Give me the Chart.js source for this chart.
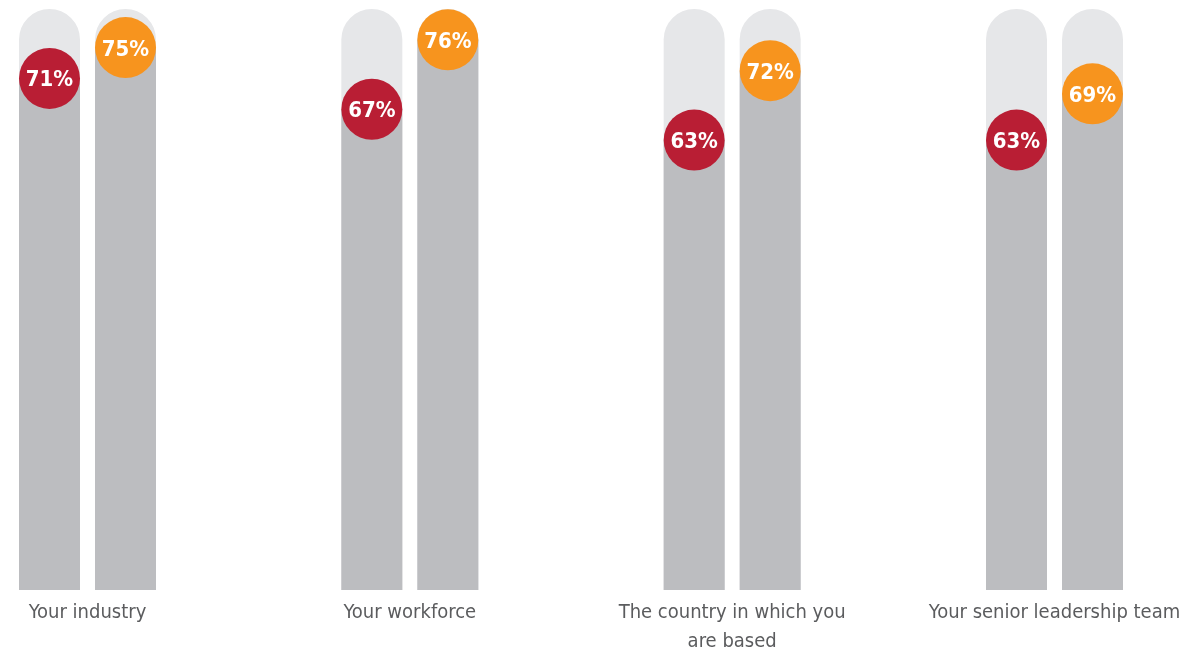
<!DOCTYPE html>
<html>
<head>
<meta charset="utf-8">
<script src="https://cdn.jsdelivr.net/npm/chart.js@4.4.0/dist/chart.umd.min.js"></script>
<style>
  html, body { margin: 0; padding: 0; background: #fff; overflow: hidden; }
  #wrap { width: 1183px; height: 654px; position: relative; }
</style>
</head>
<body>
<div id="wrap"><canvas id="chart"></canvas></div>
<script>
const categories = [
  "Your industry",
  "Your workforce",
  ["The country in which you", "are based"],
  "Your senior leadership team"
];
const seriesRed = [71, 67, 63, 63];
const seriesOrange = [75, 76, 72, 69];
const trackValues = [80, 80, 80, 80];

const Y_MIN = 4.65;
const Y_MAX = 80;
const FONT = "'DejaVu Sans Condensed', 'Liberation Sans Narrow', sans-serif";
const RED = "#b91e34";
const ORANGE = "#f7941e";
const TRACK = "#e6e7e9";
const FILL = "#bcbdc0";

// circles with the value, sitting on top of each filled bar
const bubblePlugin = {
  id: "bubbles",
  afterDatasetsDraw(chart) {
    const ctx = chart.ctx;
    chart.data.datasets.forEach((ds, i) => {
      if (!ds.bubble) return;
      const meta = chart.getDatasetMeta(i);
      meta.data.forEach((bar, j) => {
        ctx.save();
        ctx.beginPath();
        ctx.arc(bar.x, bar.y, 30.5, 0, Math.PI * 2);
        ctx.fillStyle = ds.bubble;
        ctx.fill();
        ctx.fillStyle = "#fff";
        ctx.font = "bold 22px " + FONT;
        ctx.textAlign = "center";
        ctx.textBaseline = "alphabetic";
        ctx.fillText(ds.data[j] + "%", bar.x, bar.y + 8);
        ctx.restore();
      });
    });
  }
};

const barOpts = {
  categoryPercentage: 0.4716,
  barPercentage: 0.8026,
  base: Y_MIN,
  clip: false
};
const trackOpts = {
  ...barOpts,
  backgroundColor: TRACK,
  borderRadius: { topLeft: 40, topRight: 40 },
  borderSkipped: "bottom",
  order: 3
};

new Chart(document.getElementById("chart"), {
  type: "bar",
  data: {
    labels: categories,
    datasets: [
      { ...trackOpts, label: "trackRed", data: trackValues, stack: "a" },
      { ...trackOpts, label: "trackOrange", data: trackValues, stack: "b" },
      { ...barOpts, label: "Red", data: seriesRed, stack: "a", backgroundColor: FILL, bubble: RED, order: 1 },
      { ...barOpts, label: "Orange", data: seriesOrange, stack: "b", backgroundColor: FILL, bubble: ORANGE, order: 1 }
    ]
  },
  options: {
    responsive: true,
    maintainAspectRatio: false,
    animation: false,
    events: [],
    layout: { padding: { left: 87.5, right: 128.5, top: 9, bottom: 0 } },
    plugins: { legend: { display: false }, tooltip: { enabled: false } },
    scales: {
      x: {
        type: "category",
        offset: false,
        grid: { display: false, drawTicks: false },
        border: { display: false },
        ticks: {
          color: "#5b5c5e",
          padding: 8,
          maxRotation: 0,
          autoSkip: false,
          font: { family: FONT, size: 20, lineHeight: 1.45 }
        },
        afterFit: (scale) => {
          scale.height = 64;
          scale.paddingLeft = 0;
          scale.paddingRight = 0;
        }
      },
      y: {
        display: false,
        stacked: false,
        beginAtZero: false,
        min: Y_MIN,
        max: Y_MAX
      }
    }
  },
  plugins: [bubblePlugin]
});
</script>
</body>
</html>
